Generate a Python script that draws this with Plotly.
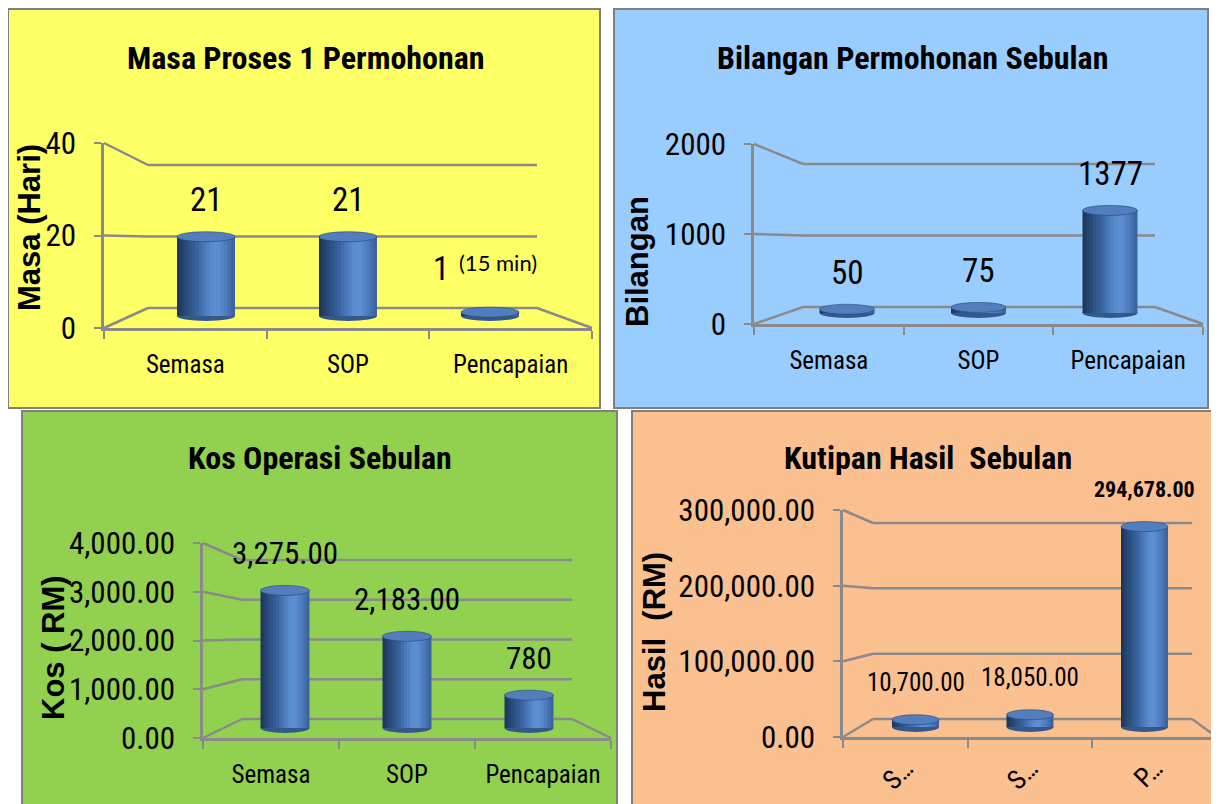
import plotly.graph_objects as go

W, H = 1219, 804
OFF = 8  # page body margin of the written html

# ---------------- data ----------------
categories = ["Semasa", "SOP", "Pencapaian"]
short_categories = ["S\u2026", "S\u2026", "P\u2026"]

masa_hari = [21, 21, 1]
bilangan_permohonan = [50, 75, 1377]
kos_operasi = [3275.00, 2183.00, 780.00]
kutipan_hasil = [10700.00, 18050.00, 294678.00]

masa_text = ["21", "21", "1"]
bilangan_text = ["50", "75", "1377"]
kos_text = ["3,275.00", "2,183.00", "780"]
hasil_text = ["10,700.00", "18,050.00", "294,678.00"]

masa_ticks = [0, 20, 40]
bilangan_ticks = [0, 1000, 2000]
kos_ticks = [0, 1000, 2000, 3000, 4000]
hasil_ticks = [0, 100000, 200000, 300000]

# ---------------- style ----------------
NARROW = "Liberation Sans Narrow, Arial Narrow, Roboto Condensed, sans-serif"
BOLDF = "Liberation Sans, Arial, sans-serif"
GRID = "#8a8a8a"
BORDER = "#7f7f7f"

panels = [
    dict(title="Masa Proses 1 Permohonan", ytitle="Masa (Hari)",
         values=masa_hari, text=masa_text, ticks=masa_ticks, fmt="d",
         xlabels=categories, xangle=0, xstandoff=12, xsize=25, bg="#FFFF66",
         box=(8, 9, 600, 408), ax=(104, 592), yf=(328, 143), yb=(308, 165),
         xb=(148, 537), zero=316, spacing=142, bar_px=58,
         title_xy=(306, 58), ytitle_xy=(30, 228), label_size=33,
         label_over=[{}, {}, dict(xshift=-49, yshift=44)]),
    dict(title="Bilangan Permohonan Sebulan", ytitle="Bilangan",
         values=bilangan_permohonan, text=bilangan_text, ticks=bilangan_ticks, fmt="d",
         xlabels=categories, xangle=0, xstandoff=12, xsize=25, bg="#99CCFF",
         box=(614, 9, 1208, 408), ax=(754, 1203), yf=(324, 144), yb=(307, 164),
         xb=(803, 1155), zero=313, spacing=131.5, bar_px=55,
         title_xy=(912, 58), ytitle_xy=(637, 262), label_size=33,
         label_over=[{}, {}, {}]),
    dict(title="Kos Operasi Sebulan", ytitle="Kos ( RM)",
         values=kos_operasi, text=kos_text, ticks=kos_ticks, fmt=",.2f",
         xlabels=categories, xangle=0, xstandoff=12, xsize=25, bg="#92D050",
         box=(22, 411, 617, 820), ax=(203, 611), yf=(738, 543), yb=(719, 560),
         xb=(242, 572), zero=728, spacing=122, bar_px=49,
         title_xy=(320, 458), ytitle_xy=(53, 648), label_size=31,
         label_over=[{}, {}, {}]),
    dict(title="Kutipan Hasil\u00a0 Sebulan", ytitle="Hasil\u00a0 (RM)",
         values=kutipan_hasil, text=hasil_text, ticks=hasil_ticks, fmt=",.2f",
         xlabels=short_categories, xangle=-45, xstandoff=2, xsize=27, bg="#FAC090",
         box=(632, 411, 1235, 820), ax=(843, 1217), yf=(737, 510), yb=(719, 523),
         xb=(873, 1192), zero=727, spacing=114.5, bar_px=47,
         title_xy=(928, 458), ytitle_xy=(654, 632), label_size=25,
         label_over=[{}, {}, dict(bold=True, size=22)]),
]


def fx(p):
    return (p - OFF) / W


def fy(p):
    return 1 - (p - OFF) / H


def lerp_color(t, stops):
    for (t0, c0), (t1, c1) in zip(stops, stops[1:]):
        if t0 <= t <= t1:
            u = (t - t0) / (t1 - t0) if t1 > t0 else 0
            c = [round(a + (b - a) * u) for a, b in zip(c0, c1)]
            return f"rgb({c[0]},{c[1]},{c[2]})"
    c = stops[-1][1]
    return f"rgb({c[0]},{c[1]},{c[2]})"


CYL = [(0.0, (28, 52, 86)), (0.12, (38, 70, 114)), (0.35, (58, 100, 160)),
       (0.6, (90, 140, 208)), (0.7, (94, 144, 212)), (0.85, (76, 122, 188)),
       (1.0, (56, 94, 150))]
NSLICE = 16

fig = go.Figure()
layout = dict(width=W, height=H,
              margin=dict(l=0, r=0, t=0, b=0, pad=0, autoexpand=False),
              paper_bgcolor="white", plot_bgcolor="rgba(0,0,0,0)",
              showlegend=False, barmode="overlay", autosize=False)
shapes = []
annotations = []

# panel backgrounds first
for p in panels:
    x0, y0, x1, y1 = p["box"]
    shapes.append(dict(type="rect", xref="paper", yref="paper", layer="below",
                       x0=fx(x0), x1=fx(x1), y0=fy(y1), y1=fy(y0),
                       fillcolor=p["bg"], line=dict(color=BORDER, width=2)))

for n, p in enumerate(panels):
    xa_f, xa_b = 2 * n + 1, 2 * n + 2
    ya_f, ya_b = 2 * n + 1, 2 * n + 2
    ax0, ax1 = p["ax"]
    yf0, yf1 = p["yf"]
    yb0, yb1 = p["yb"]
    xb0, xb1 = p["xb"]
    ticks = p["ticks"]
    ymax = ticks[-1]
    vals = p["values"]
    idx = list(range(len(categories)))
    xdom = [fx(ax0), fx(ax1)]
    ydom = [fy(yf0), fy(yf1)]

    # front axes (visible ticks / labels)
    layout[f"xaxis{xa_f}"] = dict(
        domain=xdom, range=[0, len(categories)], anchor=f"y{ya_f}",
        tickvals=[i + 0.5 for i in idx], ticktext=p["xlabels"], tickangle=p["xangle"],
        showline=True, linecolor=GRID, linewidth=2.5, ticks="", showgrid=False,
        zeroline=False, fixedrange=True, ticklabelstandoff=p["xstandoff"], automargin=False,
        tickfont=dict(family=NARROW, size=p["xsize"], color="black"),
        minor=dict(tickvals=[0, 1, 2, 3], ticks="outside", ticklen=8,
                   tickwidth=2, tickcolor=GRID, showgrid=False))
    layout[f"yaxis{ya_f}"] = dict(
        domain=ydom, range=[0, ymax], anchor=f"x{xa_f}",
        tickvals=ticks, tickformat=p["fmt"], showline=True, linecolor=GRID,
        linewidth=2.5, ticks="outside", ticklen=7, tickwidth=2, tickcolor=GRID,
        showgrid=False, zeroline=False, fixedrange=True, ticklabelstandoff=12,
        automargin=False, tickfont=dict(family=NARROW, size=31, color="black"))
    # invisible anchor trace so the front subplot is drawn
    fig.add_trace(go.Scatter(x=[i + 0.5 for i in idx], y=[0] * len(idx),
                             xaxis=f"x{xa_f}", yaxis=f"y{ya_f}", mode="markers",
                             marker=dict(opacity=0), hoverinfo="skip", showlegend=False))

    # bar axes (hidden, perspective depth), same domain
    s = p["spacing"]
    mid = (ax0 + ax1) / 2
    layout[f"xaxis{xa_b}"] = dict(
        domain=xdom, anchor=f"y{ya_b}", visible=False, fixedrange=True, automargin=False,
        range=[1 - (mid - ax0) / s, 1 + (ax1 - mid) / s])
    k = (p["zero"] - yb1) / ymax
    layout[f"yaxis{ya_b}"] = dict(
        domain=ydom, anchor=f"x{xa_b}", visible=False, fixedrange=True, automargin=False,
        range=[-(yf0 - p["zero"]) / k, ymax + (yb1 - yf1) / k])

    # back wall / floor lines
    for v in ticks:
        fy_px = yf0 - v / ymax * (yf0 - yf1)
        by_px = yb0 - v / ymax * (yb0 - yb1)
        shapes.append(dict(type="line", xref="paper", yref="paper", layer="below",
                           x0=fx(ax0), y0=fy(fy_px), x1=fx(xb0), y1=fy(by_px),
                           line=dict(color=GRID, width=2.5)))
        shapes.append(dict(type="line", xref="paper", yref="paper", layer="below",
                           x0=fx(xb0), y0=fy(by_px), x1=fx(xb1), y1=fy(by_px),
                           line=dict(color=GRID, width=2.5)))
    shapes.append(dict(type="line", xref="paper", yref="paper", layer="below",
                       x0=fx(xb1), y0=fy(yb0), x1=fx(ax1), y1=fy(yf0),
                       line=dict(color=GRID, width=2.5)))

    # cylinders
    w = p["bar_px"] / s
    hd = 5 / k
    xr, yr = f"x{xa_b}", f"y{ya_b}"
    for i, v in zip(idx, vals):
        shapes.append(dict(type="circle", xref=xr, yref=yr, layer="below",
                           x0=i - w / 2, x1=i + w / 2, y0=-hd, y1=hd,
                           fillcolor="rgb(52,88,140)", line=dict(width=0)))
    for j in range(NSLICE):
        t = (j + 0.5) / NSLICE
        fig.add_trace(go.Bar(
            x=idx, y=vals, xaxis=xr, yaxis=yr,
            offset=-w / 2 + j * w / NSLICE,
            width=w / NSLICE * (1.35 if j < NSLICE - 1 else 1.0),
            marker=dict(color=lerp_color(t, CYL), line=dict(width=0)),
            hoverinfo="skip", showlegend=False))
    for i, v in zip(idx, vals):
        shapes.append(dict(type="circle", xref=xr, yref=yr, layer="above",
                           x0=i - w / 2, x1=i + w / 2, y0=v - hd, y1=v + hd,
                           fillcolor="rgb(82,126,190)",
                           line=dict(color="rgba(40,70,120,0.6)", width=1)))

    # data labels
    for i, v, t, ov in zip(idx, vals, p["text"], p["label_over"]):
        txt = f"<b>{t}</b>" if ov.get("bold") else t
        annotations.append(dict(
            x=i, y=v, xref=xr, yref=yr, text=txt, showarrow=False,
            xanchor="center", yanchor="middle",
            xshift=ov.get("xshift", 0), yshift=ov.get("yshift", 37),
            font=dict(family=NARROW, size=ov.get("size", p["label_size"]), color="black")))

    # titles
    tx, ty = p["title_xy"]
    annotations.append(dict(x=fx(tx), y=fy(ty), xref="paper", yref="paper",
                            text=f"<b>{p['title']}</b>", showarrow=False,
                            xanchor="center", yanchor="middle",
                            font=dict(family=NARROW, size=32, color="black")))
    yx, yy = p["ytitle_xy"]
    annotations.append(dict(x=fx(yx), y=fy(yy), xref="paper", yref="paper",
                            text=f"<b>{p['ytitle']}</b>", showarrow=False, textangle=-90,
                            xanchor="center", yanchor="middle",
                            font=dict(family=BOLDF, size=31, color="black")))

# note on the tiny bar of panel 1
annotations.append(dict(x=2, y=masa_hari[2], xref="x2", yref="y2", text="(15 min)",
                        showarrow=False, xanchor="left", yanchor="middle",
                        xshift=-33, yshift=50,
                        font=dict(family="Lato, Open Sans, sans-serif", size=22, color="black")))

layout["shapes"] = shapes
layout["annotations"] = annotations
fig.update_layout(**layout)
fig.write_html("out.html")
